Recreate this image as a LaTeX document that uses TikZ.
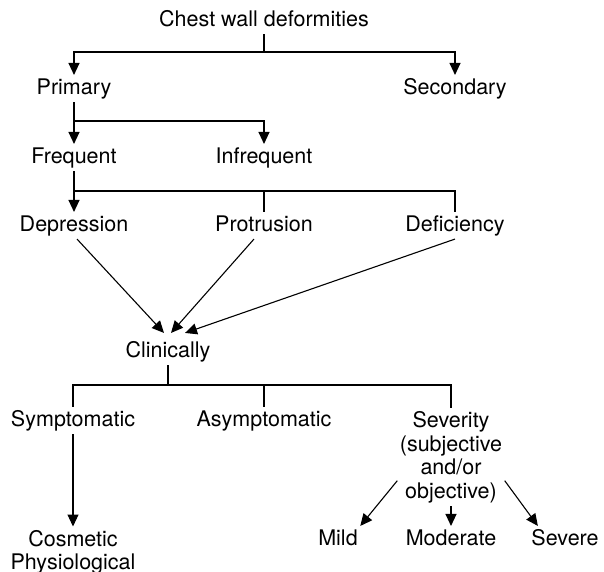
\documentclass[tikz,border=0pt]{standalone}
\usepackage{fontspec}
\setmainfont{TeX Gyre Heros}
\usetikzlibrary{arrows.meta}

\begin{document}
\begin{tikzpicture}[
  x=1pt, y=-1pt,
  font=\fontsize{21.5}{23.5}\selectfont,
  >={Triangle[length=12pt, width=11pt]},
  line width=1.1pt,
  lbl/.style={anchor=base, inner xsep=2pt, inner ysep=3pt,
              text height=15.5pt, text depth=4.5pt},
  multi/.style={anchor=north, align=center,
                inner xsep=2pt, inner ysep=3pt},
  arr/.style={->}
]
\useasboundingbox (0,0) rectangle (604,571);

\node[lbl] (top) at (264,26) {Chest wall deformities};
\node[lbl] (primary) at (74,94) {Primary};
\node[lbl] (secondary) at (455,94) {Secondary};
\coordinate (f1) at (264,52);
\draw (top.south) -- (f1);
\draw[arr] (f1) -| (primary.north);
\draw[arr] (f1) -| (secondary.north);

\node[lbl] (frequent) at (74,163) {Frequent};
\node[lbl] (infrequent) at (264,163) {Infrequent};
\coordinate (f2) at (74,121);
\draw (primary.south) -- (f2);
\draw[arr] (f2) -- (frequent.north);
\draw[arr] (f2) -| (infrequent.north);

\node[lbl] (depression) at (74,231) {Depression};
\node[lbl] (protrusion) at (264,231) {Protrusion};
\node[lbl] (deficiency) at (455,231) {Deficiency};
\coordinate (f3) at (74,191);
\draw (frequent.south) -- (f3);
\draw[arr] (f3) -- (depression.north);
\draw (f3) -| (protrusion.north);
\draw (f3) -| (deficiency.north);

\node[lbl] (clinically) at (168,357) {Clinically};
\draw[arr] ([xshift=3pt]depression.south) -- ([shift={(-4pt,5pt)}]clinically.north);
\draw[arr] ([xshift=-10pt]protrusion.south) -- ([shift={(3pt,5pt)}]clinically.north);
\draw[arr] (deficiency.south) -- ([shift={(17pt,5pt)}]clinically.north);

\node[lbl] (symptomatic) at (73,426) {Symptomatic};
\node[lbl] (asymptomatic) at (264,426) {Asymptomatic};
\node[multi] (severity) at (451,408) {Severity\\(subjective\\and/or\\objective)};
\coordinate (f4) at (168,385);
\draw (clinically.south) -- (f4);
\draw (f4) -| (symptomatic.north);
\draw (f4) -| (asymptomatic.north);
\draw (f4) -| (severity.north);

\node[multi, font=\fontsize{21.5}{23}\selectfont] (cosmetic) at (73,526.5) {Cosmetic\\Physiological};
\draw[arr] (symptomatic.south) -- (cosmetic.north);

\node[lbl] (mild) at (338,545) {Mild};
\node[lbl] (moderate) at (451,545) {Moderate};
\node[lbl] (severe) at (565,545) {Severe};
\draw[arr] ([yshift=-23.5pt]severity.west) -- (mild.north east);
\draw[arr] (severity.south) -- (moderate.north);
\draw[arr] ([yshift=-23.5pt]severity.east) -- ([xshift=9pt]severe.north west);

\end{tikzpicture}
\end{document}
